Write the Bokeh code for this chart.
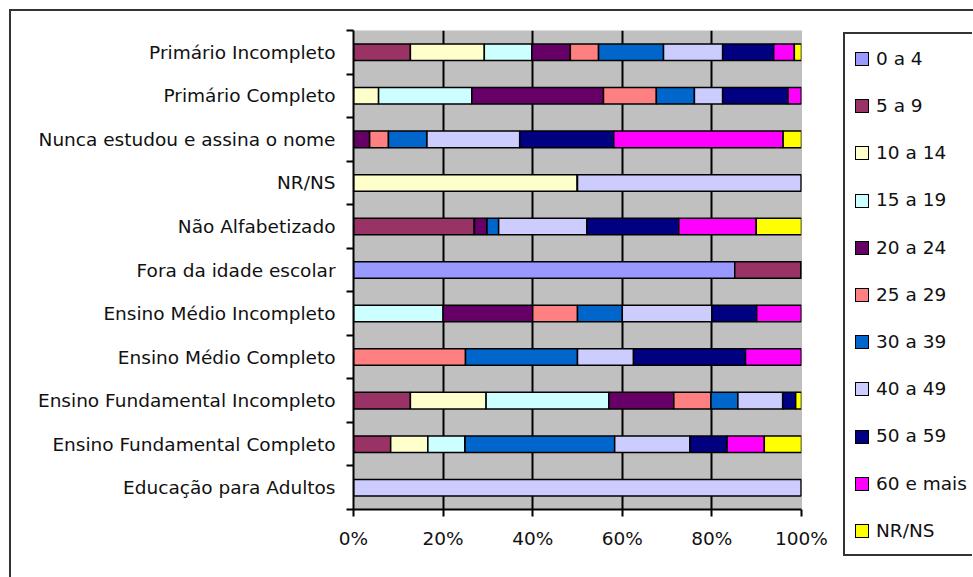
from bokeh.plotting import figure
from bokeh.layouts import row, column
from bokeh.models import ColumnDataSource, Range1d, FixedTicker, Span, Spacer, Div
from bokeh.embed import file_html
from bokeh.resources import INLINE

# Schooling level of respondents, split by age group (percent of each row)
categories = [
    "Primário Incompleto",
    "Primário Completo",
    "Nunca estudou e assina o nome",
    "NR/NS",
    "Não Alfabetizado",
    "Fora da idade escolar",
    "Ensino Médio Incompleto",
    "Ensino Médio Completo",
    "Ensino Fundamental Incompleto",
    "Ensino Fundamental Completo",
    "Educação para Adultos",
]

age_0_4 = [0, 0, 0, 0, 0, 85.1, 0, 0, 0, 0, 0]
age_5_9 = [12.7, 0, 0, 0, 27.0, 14.9, 0, 0, 12.7, 8.3, 0]
age_10_14 = [16.5, 5.6, 0, 50.0, 0, 0, 0, 0, 16.9, 8.3, 0]
age_15_19 = [10.6, 20.8, 0, 0, 0, 0, 20.0, 0, 27.4, 8.3, 0]
age_20_24 = [8.6, 29.4, 3.6, 0, 2.8, 0, 20.0, 0, 14.5, 0, 0]
age_25_29 = [6.3, 11.8, 4.2, 0, 0, 0, 10.0, 25.0, 8.3, 0, 0]
age_30_39 = [14.5, 8.5, 8.6, 0, 2.6, 0, 10.0, 25.0, 6.0, 33.4, 0]
age_40_49 = [13.2, 6.3, 20.7, 50.0, 19.7, 0, 20.0, 12.5, 10.0, 16.8, 100.0]
age_50_59 = [11.4, 14.6, 21.0, 0, 20.5, 0, 10.0, 25.0, 2.9, 8.3, 0]
age_60_plus = [4.6, 3.0, 37.8, 0, 17.3, 0, 10.0, 12.5, 0, 8.3, 0]
age_nr_ns = [1.6, 0, 4.1, 0, 10.1, 0, 0, 0, 1.3, 8.3, 0]

series_labels = ["0 a 4", "5 a 9", "10 a 14", "15 a 19", "20 a 24", "25 a 29",
                 "30 a 39", "40 a 49", "50 a 59", "60 e mais", "NR/NS"]
series_colors = ["#9999FF", "#993366", "#FFFFCC", "#CCFFFF", "#660066", "#FF8080",
                 "#0066CC", "#CCCCFF", "#000080", "#FF00FF", "#FFFF00"]

x_ticks = [0, 20, 40, 60, 80, 100]
x_tick_labels = ["0%", "20%", "40%", "60%", "80%", "100%"]

series = [age_0_4, age_5_9, age_10_14, age_15_19, age_20_24, age_25_29,
          age_30_39, age_40_49, age_50_59, age_60_plus, age_nr_ns]
keys = ["s%d" % i for i in range(len(series))]

n = len(categories)
ypos = [n - 1 - i for i in range(n)]          # first category drawn on top
data = {"y": ypos}
for k, vals in zip(keys, series):
    data[k] = vals
source = ColumnDataSource(data)

FONT = "DejaVu Sans"
FONT_SIZE = "18.5px"
TEXT_COLOR = "#111111"
BORDER = "#333333"

# ---- main stacked bar chart ----
p = figure(width=833, height=566, x_range=Range1d(0, 100), y_range=Range1d(-0.5, n - 0.5),
           output_backend="svg", toolbar_location=None, title_location=None,
           min_border_left=342, min_border_right=43, min_border_top=19, min_border_bottom=68)
p.background_fill_color = "#C0C0C0"
p.border_fill_color = "white"
p.outline_line_color = None

p.xgrid.ticker = FixedTicker(ticks=x_ticks[1:-1])
p.xgrid.grid_line_color = "black"
p.xgrid.grid_line_width = 2
p.ygrid.visible = False
p.add_layout(Span(location=100, dimension="height", line_color="#9A9A9A", line_width=1))

renderers = p.hbar_stack(keys, y="y", height=0.38, source=source,
                         fill_color=series_colors, line_color="black", line_width=1.5)

xa = p.xaxis[0]
xa.ticker = FixedTicker(ticks=x_ticks)
xa.major_label_overrides = {t: lab for t, lab in zip(x_ticks, x_tick_labels)}
xa.axis_line_color = "black"
xa.axis_line_width = 2
xa.major_tick_line_color = "black"
xa.major_tick_line_width = 2
xa.major_tick_in = 0
xa.major_tick_out = 7
xa.minor_tick_line_color = None
xa.major_label_standoff = 11
xa.major_label_text_font = FONT
xa.major_label_text_font_size = FONT_SIZE
xa.major_label_text_color = TEXT_COLOR

# labels at category centres, tick marks between categories
ya = p.yaxis[0]
ya.ticker = FixedTicker(ticks=ypos, minor_ticks=[i - 0.5 for i in range(n + 1)])
ya.major_label_overrides = {y: c for y, c in zip(ypos, categories)}
ya.axis_line_color = "black"
ya.axis_line_width = 2
ya.major_tick_in = 0
ya.major_tick_out = 0
ya.minor_tick_in = 0
ya.minor_tick_out = 7
ya.minor_tick_line_color = "black"
ya.minor_tick_line_width = 2
ya.major_label_standoff = 11
ya.major_label_text_font = FONT
ya.major_label_text_font_size = FONT_SIZE
ya.major_label_text_color = TEXT_COLOR

# ---- legend box (HTML), one entry per age group ----
row_step = 47.2
entries = []
for i, (lab, col) in enumerate(zip(series_labels, series_colors)):
    top = 18 + i * row_step
    entries.append(
        f'<div style="position:absolute;left:10px;top:{top:.1f}px;height:14px;'
        f'display:flex;align-items:center;white-space:nowrap;">'
        f'<span style="display:inline-block;width:14px;height:14px;box-sizing:border-box;'
        f'background:{col};border:1.5px solid #000;"></span>'
        f'<span style="margin-left:7px;line-height:1;">{lab}</span></div>'
    )
legend_html = (
    f'<div style="position:relative;margin-top:16px;margin-left:-6px;width:129px;height:524px;'
    f'box-sizing:border-box;border:2px solid {BORDER};border-right:none;background:#fff;'
    f"font-family:'{FONT}';font-size:{FONT_SIZE};color:{TEXT_COLOR};\">"
    + "".join(entries) + "</div>"
)
legend_box = Div(text=legend_html, width=129, height=566)

# ---- outer frame of the chart: thin dark strips on the top and left ----
top_rule = Spacer(width=964, height=2, styles={"background-color": BORDER})
left_rule = Spacer(width=2, height=566, styles={"background-color": BORDER})

layout = column(
    Spacer(width=973, height=9),
    row(Spacer(width=9, height=2), top_rule),
    row(Spacer(width=9, height=566), left_rule, p, legend_box),
)

open("out.html", "w").write(file_html(layout, INLINE))
